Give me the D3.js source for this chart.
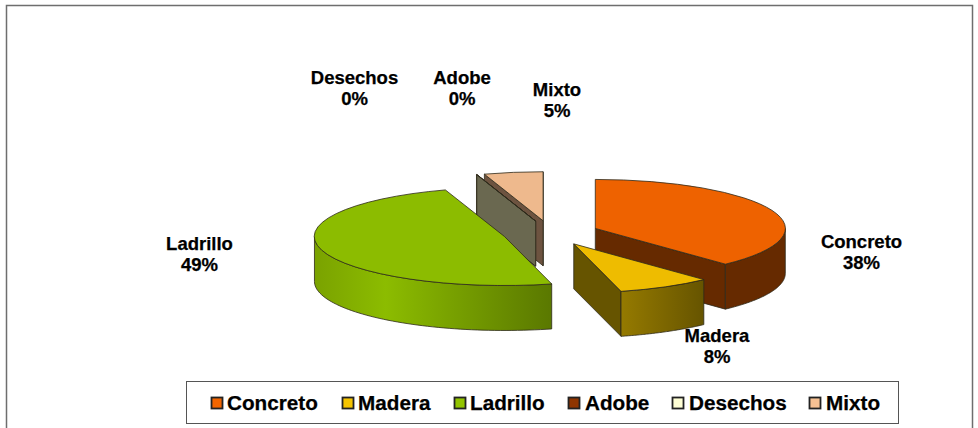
<!DOCTYPE html>
<html><head><meta charset="utf-8">
<script src="https://cdn.jsdelivr.net/npm/d3@7"></script>
<style>html,body{margin:0;background:#fff}svg{display:block}text{font-family:"Liberation Sans",Arial,sans-serif;font-weight:bold;fill:#000;stroke:#000;stroke-width:.25}</style>
</head><body><svg id="c" width="978" height="428"></svg>
<script>
const categories=["Concreto","Madera","Ladrillo","Adobe","Desechos","Mixto"];
const values=[38,8,48.96,0.02,0.02,5];
const labels=["38%","8%","49%","0%","0%","5%"];
const topColors=["#ee6200","#eebc00","#8cbc00","#8a3300","#fdfad0","#eeb98d"];
const legendColors=["#f26500","#f5c400","#92c400","#8f3500","#ffffd5","#f6c193"];
const wallColors=["#662a00","#665400","#5b7a00","#5a2400","#6a6850","#6d5340"];
const frontLight=["#662a00","#957a00","#8cbc00","#5a2400","#6a6850","#6d5340"];
const frontDark=["#662a00","#665400","#5a7800","#5a2400","#6a6850","#6d5340"];
const labelX=[861.5,717,199.5,462,354.5,557];
const labelY=[248,342,250,84,84,96];
const legX=[211,342,454,568,672,809];
const legendTextX=[227,358,470,585,689,826];
const paintOrder=[5,3,4,2,0,1];

const svg=d3.select("#c");
const cx=550.6,cy=233,rx=190,ry=49,depth=45,explode=0.253;
const pieGen=d3.pie().sort(null).value(d=>d);
const arcs=pieGen(values);
const pt=(o,a)=>[o[0]+rx*Math.sin(a),o[1]-ry*Math.cos(a)];
const defs=svg.append("defs");

svg.append("rect").attr("x",6.5).attr("y",5.5).attr("width",966).attr("height",440).attr("fill","#fff").attr("stroke","#6e6e6e").attr("stroke-width",1.5);

const arcGen=d3.arc().innerRadius(0).outerRadius(1);
function arcPts(o,a0,a1,n){return d3.range(n+1).map(i=>pt(o,a0+(a1-a0)*i/n));}
const line=d3.line();

paintOrder.forEach(i=>{
  const d=arcs[i],mid=(d.startAngle+d.endAngle)/2;
  const o=[cx+explode*rx*Math.sin(mid),cy-explode*ry*Math.cos(mid)];
  const g=svg.append("g").attr("stroke","#2d2a1a").attr("stroke-width",0.8).attr("stroke-linejoin","round");
  const wall=a=>{const p=pt(o,a);
    g.append("path").attr("fill",wallColors[i]).attr("d",line([o,p,[p[0],p[1]+depth],[o[0],o[1]+depth]])+"Z");};
  if(Math.sin(d.endAngle)>0) wall(d.endAngle);
  if(Math.sin(d.startAngle)<0) wall(d.startAngle);
  const a0=Math.max(d.startAngle,Math.PI/2),a1=Math.min(d.endAngle,Math.PI*1.5);
  if(a1>a0){
    const top=arcPts(o,a0,a1,60),bot=top.map(p=>[p[0],p[1]+depth]).reverse();
    const xs=d3.extent(top,p=>p[0]);
    const id="g"+i;
    const gr=defs.append("linearGradient").attr("id",id).attr("gradientUnits","userSpaceOnUse")
      .attr("x1",xs[0]).attr("x2",xs[1]).attr("y1",0).attr("y2",0);
    if(i===2){
      gr.append("stop").attr("offset",0).attr("stop-color","#7aa200");
      gr.append("stop").attr("offset",0.3).attr("stop-color",frontLight[i]);
      gr.append("stop").attr("offset",1).attr("stop-color",frontDark[i]);
    }else{
      gr.append("stop").attr("offset",0).attr("stop-color",frontLight[i]);
      gr.append("stop").attr("offset",1).attr("stop-color",frontDark[i]);
    }
    g.append("path").attr("fill",`url(#${id})`).attr("d",line(top.concat(bot))+"Z");
  }
  g.append("path").attr("fill",topColors[i]).attr("vector-effect","non-scaling-stroke")
    .attr("transform",`translate(${o[0]},${o[1]}) scale(${rx},${ry})`).attr("d",arcGen(d));
});

const lab=svg.append("g").attr("text-anchor","middle").attr("font-size",18.5);
categories.forEach((c,i)=>{
  const t=lab.append("text").attr("x",labelX[i]).attr("y",labelY[i]);
  t.append("tspan").attr("x",labelX[i]).text(c);
  t.append("tspan").attr("x",labelX[i]).attr("dy",21).text(labels[i]);
});

svg.append("rect").attr("x",186.5).attr("y",381.5).attr("width",712).attr("height",42).attr("fill","#fff").attr("stroke","#555");
const leg=svg.append("g");
categories.forEach((c,i)=>{
  leg.append("rect").attr("x",legX[i]+0.5).attr("y",397.5).attr("width",11).attr("height",11).attr("fill",legendColors[i]).attr("stroke","#222").attr("stroke-width",1.8);
  leg.append("text").attr("x",legendTextX[i]).attr("y",410).attr("font-size",20.7).text(c);
});
</script></body></html>
